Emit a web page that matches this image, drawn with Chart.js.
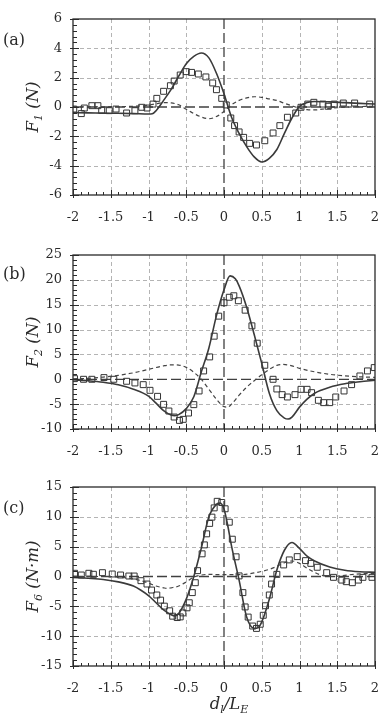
<!DOCTYPE html>
<html>
<head>
<meta charset="utf-8">
<script src="https://cdn.jsdelivr.net/npm/chart.js@4.4.1/dist/chart.umd.min.js"></script>
<style>
    body { margin: 0; background: #fff; }
    #wrap { position: relative; width: 383px; height: 715px; overflow: hidden; }
    canvas { position: absolute; left: 0; }
</style>
</head>
<body>
<div id="wrap">
    <canvas id="cA" width="383" height="230" style="top:0"></canvas>
    <canvas id="cB" width="383" height="230" style="top:230px"></canvas>
    <canvas id="cC" width="383" height="255" style="top:460px"></canvas>
</div>
<script>
// ---- panel (a) F1 ----
const aLineX = [-2, -1.8, -1.6, -1.4, -1.2, -1.0, -0.95, -0.9, -0.8, -0.7, -0.6, -0.5, -0.4, -0.3, -0.2, -0.1, 0, 0.1, 0.2, 0.3, 0.4, 0.5, 0.6, 0.7, 0.8, 0.9, 1.0, 1.1, 1.2, 1.4, 1.6, 1.8, 2];
const aLine  = [-0.39, -0.4, -0.42, -0.43, -0.45, -0.48, -0.46, -0.25, 0.45, 1.2, 2.1, 2.95, 3.45, 3.68, 3.35, 2.3, 0.9, -0.7, -1.8, -2.7, -3.4, -3.75, -3.5, -2.9, -1.8, -0.75, 0.04, 0.3, 0.38, 0.35, 0.3, 0.25, 0.2];
const aDashX = [-2, -1.5, -1.2, -1.0, -0.9, -0.8, -0.7, -0.6, -0.5, -0.4, -0.3, -0.2, -0.1, 0, 0.1, 0.2, 0.3, 0.4, 0.5, 0.6, 0.7, 0.8, 0.9, 1.0, 1.1, 1.2, 1.3, 1.5, 1.75, 2];
const aDash  = [0, 0.02, 0.05, 0.12, 0.22, 0.3, 0.28, 0.15, -0.15, -0.45, -0.68, -0.8, -0.65, -0.3, 0.15, 0.45, 0.62, 0.7, 0.66, 0.55, 0.45, 0.25, 0.08, -0.08, -0.18, -0.2, -0.15, -0.05, 0.02, 0.05];
const aExpX = [-1.99, -1.89, -1.85, -1.75, -1.67, -1.62, -1.52, -1.43, -1.29, -1.18, -1.09, -1.02, -0.94, -0.89, -0.80, -0.71, -0.66, -0.58, -0.50, -0.43, -0.34, -0.24, -0.15, -0.10, -0.03, 0.03, 0.09, 0.14, 0.20, 0.26, 0.34, 0.43, 0.54, 0.65, 0.74, 0.84, 0.95, 1.02, 1.11, 1.19, 1.31, 1.38, 1.46, 1.58, 1.73, 1.93];
const aExp  = [-0.14, -0.45, -0.07, 0.09, 0.09, -0.23, -0.25, -0.14, -0.41, -0.25, -0.02, -0.07, 0.2, 0.59, 1.07, 1.45, 1.77, 2.18, 2.41, 2.36, 2.25, 2.05, 1.64, 1.18, 0.59, 0.14, -0.75, -1.27, -1.70, -2.07, -2.48, -2.59, -2.30, -1.77, -1.27, -0.70, -0.41, -0.02, 0.2, 0.32, 0.2, 0.05, 0.2, 0.27, 0.27, 0.2];

// ---- panel (b) F2 ----
const bLineX = [-2, -1.8, -1.6, -1.4, -1.2, -1.0, -0.9, -0.8, -0.7, -0.65, -0.6, -0.5, -0.4, -0.3, -0.2, -0.1, 0, 0.08, 0.15, 0.2, 0.3, 0.4, 0.5, 0.6, 0.7, 0.8, 0.85, 0.9, 1.0, 1.1, 1.2, 1.4, 1.6, 1.8, 2];
const bLine  = [-0.1, -0.3, -0.6, -1.1, -2.0, -3.4, -4.8, -6.3, -7.2, -7.3, -7.1, -5.9, -3.5, 1.5, 6.3, 12.8, 18.0, 20.8, 20.2, 18.8, 14.5, 9.0, 3.2, -2.8, -6.3, -7.8, -8.0, -7.6, -5.6, -4.0, -2.8, -1.6, -0.9, -0.5, -0.2];
const bDashX = [-2, -1.8, -1.6, -1.4, -1.2, -1.0, -0.8, -0.7, -0.6, -0.5, -0.4, -0.3, -0.2, -0.1, 0, 0.05, 0.1, 0.2, 0.3, 0.4, 0.5, 0.6, 0.7, 0.78, 0.9, 1.0, 1.2, 1.4, 1.6, 1.8, 2];
const bDash  = [0.1, 0.2, 0.45, 0.8, 1.3, 2.0, 2.7, 2.9, 2.85, 2.4, 1.4, 0.0, -2.0, -4.0, -5.5, -5.6, -5.0, -3.2, -1.6, -0.3, 0.9, 2.0, 2.8, 3.0, 2.7, 2.2, 1.5, 1.0, 0.7, 0.5, 0.4];
const bExpX = [-1.98, -1.86, -1.75, -1.59, -1.46, -1.29, -1.18, -1.07, -0.98, -0.88, -0.80, -0.73, -0.66, -0.59, -0.54, -0.47, -0.40, -0.33, -0.27, -0.19, -0.13, -0.07, 0.00, 0.07, 0.13, 0.19, 0.28, 0.37, 0.44, 0.54, 0.65, 0.70, 0.77, 0.84, 0.94, 1.02, 1.10, 1.16, 1.25, 1.32, 1.40, 1.48, 1.59, 1.69, 1.80, 1.90, 1.99];
const bExp  = [0.13, 0, 0, 0.34, 0, -0.4, -0.74, -1.08, -2.22, -3.43, -5.04, -6.38, -7.59, -8.27, -8.06, -6.79, -5.1, -2.35, 1.68, 4.5, 8.67, 12.7, 15.4, 16.5, 16.8, 15.8, 13.9, 10.75, 7.26, 2.82, 0, -1.95, -3.09, -3.56, -3.09, -2.02, -2.02, -2.69, -4.23, -4.7, -4.7, -3.56, -2.35, -1.08, 0.67, 1.68, 2.35];

// ---- panel (c) F6 ----
const cLineX = [-2, -1.8, -1.6, -1.4, -1.2, -1.1, -1.0, -0.9, -0.8, -0.7, -0.65, -0.6, -0.5, -0.4, -0.3, -0.2, -0.1, -0.05, 0, 0.05, 0.1, 0.2, 0.3, 0.4, 0.45, 0.5, 0.6, 0.7, 0.8, 0.9, 1.0, 1.1, 1.2, 1.4, 1.6, 1.8, 2];
const cLine  = [-0.15, -0.3, -0.5, -0.9, -1.6, -2.3, -3.2, -4.4, -5.6, -6.4, -6.6, -6.2, -3.8, 0, 4.8, 10.0, 12.1, 12.3, 11.3, 8.5, 5.1, -0.6, -6.8, -8.7, -8.6, -7.6, -3.8, 1.1, 4.4, 5.7, 4.7, 3.4, 2.6, 1.6, 1.05, 0.8, 0.7];
const cDashX = [-2, -1.6, -1.4, -1.2, -1.0, -0.9, -0.8, -0.75, -0.7, -0.6, -0.5, -0.4, -0.3, -0.2, 0, 0.2, 0.4, 0.6, 0.7, 0.8, 0.9, 1.0, 1.1, 1.2, 1.3, 1.45, 1.6, 1.8, 2];
const cDash  = [0, 0, -0.1, -0.4, -1.1, -1.6, -1.9, -2.0, -1.9, -1.6, -0.9, -0.1, 0.25, 0.35, 0.3, 0.3, 0.6, 1.2, 1.7, 2.3, 2.6, 2.2, 1.4, 0.7, 0.2, 0, 0.2, 0.45, 0.5];
const cExpX = [-1.98, -1.89, -1.79, -1.73, -1.61, -1.48, -1.37, -1.26, -1.19, -1.10, -1.02, -0.96, -0.89, -0.84, -0.79, -0.72, -0.68, -0.62, -0.58, -0.545, -0.49, -0.46, -0.42, -0.38, -0.35, -0.29, -0.26, -0.23, -0.19, -0.16, -0.13, -0.09, -0.03, 0.015, 0.07, 0.11, 0.16, 0.20, 0.25, 0.28, 0.32, 0.38, 0.43, 0.48, 0.52, 0.55, 0.60, 0.63, 0.70, 0.79, 0.865, 0.97, 1.08, 1.15, 1.235, 1.36, 1.45, 1.56, 1.62, 1.70, 1.78, 1.84, 1.96];
const cExp  = [0.54, 0.25, 0.54, 0.37, 0.64, 0.42, 0.25, 0.08, 0.08, -0.7, -1.26, -2.27, -3.1, -3.96, -4.97, -5.75, -6.65, -6.88, -6.77, -6.1, -5.25, -4.4, -2.7, -1.04, 0.98, 3.8, 5.3, 7.15, 8.9, 9.95, 11.5, 12.6, 12.4, 11.35, 9.1, 6.25, 3.3, 0.1, -2.7, -5.1, -6.8, -8.3, -8.7, -8.0, -6.5, -4.9, -3.1, -1.26, 0.36, 1.94, 2.78, 3.33, 2.66, 2.2, 1.55, 0.64, -0.14, -0.6, -0.87, -1.04, -0.6, -0.14, -0.14];

const FONT = '"DejaVu Serif", serif';
const INK = '#2a2a2a';

function pts(xs, ys) {
    return xs.map((x, i) => ({ x: x, y: ys[i] }));
}

// draws a string made of [text, isSub] parts, centred on (x, y)
function drawParts(ctx, parts, x, y, size, rotate) {
    ctx.save();
    ctx.translate(x, y);
    if (rotate) ctx.rotate(-Math.PI / 2);
    const big = 'italic ' + size + 'px ' + FONT;
    const small = 'italic ' + Math.round(size * 0.68) + 'px ' + FONT;
    let total = 0;
    parts.forEach(p => { ctx.font = p[1] ? small : big; total += ctx.measureText(p[0]).width; });
    let cx = -total / 2;
    ctx.fillStyle = INK;
    ctx.textBaseline = 'middle';
    ctx.textAlign = 'left';
    parts.forEach(p => {
        ctx.font = p[1] ? small : big;
        ctx.fillText(p[0], cx, p[1] ? size * 0.3 : 0);
        cx += ctx.measureText(p[0]).width;
    });
    ctx.restore();
}

const decor = {
    id: 'decor',
    beforeDatasetsDraw(chart, args, opts) {
        const ctx = chart.ctx, a = chart.chartArea;
        const xs = chart.scales.x, ys = chart.scales.y;
        ctx.save();
        ctx.strokeStyle = '#b4b4b4';
        ctx.lineWidth = 1;
        ctx.setLineDash([4, 3]);
        xs.ticks.forEach(t => {
            if (t.value === 0 || t.value === xs.min || t.value === xs.max) return;
            const p = Math.round(xs.getPixelForValue(t.value)) + 0.5;
            ctx.beginPath(); ctx.moveTo(p, a.top); ctx.lineTo(p, a.bottom); ctx.stroke();
        });
        ys.ticks.forEach(t => {
            if (t.value === 0 || t.value === ys.min || t.value === ys.max) return;
            const p = Math.round(ys.getPixelForValue(t.value)) + 0.5;
            ctx.beginPath(); ctx.moveTo(a.left, p); ctx.lineTo(a.right, p); ctx.stroke();
        });
        // zero lines
        ctx.strokeStyle = '#404040';
        ctx.lineWidth = 1.3;
        ctx.setLineDash([10, 4]);
        const x0 = xs.getPixelForValue(0), y0 = ys.getPixelForValue(0);
        ctx.beginPath(); ctx.moveTo(a.left, y0); ctx.lineTo(a.right, y0); ctx.stroke();
        ctx.beginPath(); ctx.moveTo(x0, a.top); ctx.lineTo(x0, a.bottom); ctx.stroke();
        ctx.restore();
    },
    afterDatasetsDraw(chart, args, opts) {
        const ctx = chart.ctx, a = chart.chartArea;
        const xs = chart.scales.x, ys = chart.scales.y;
        ctx.save();
        ctx.strokeStyle = INK;
        ctx.lineWidth = 1.3;
        ctx.strokeRect(a.left, a.top, a.right - a.left, a.bottom - a.top);
        ctx.lineWidth = 1;
        // x ticks, minor every 0.1
        for (let i = 0; i <= 40; i++) {
            const v = xs.min + i * 0.1;
            const p = Math.round(xs.getPixelForValue(v)) + 0.5;
            const major = i % 5 === 0;
            ctx.beginPath();
            ctx.moveTo(p, a.bottom + (major ? 3 : 0));
            ctx.lineTo(p, a.bottom - (major ? 5 : 3));
            ctx.stroke();
        }
        // y ticks
        const n = Math.round((ys.max - ys.min) / opts.minorY);
        for (let i = 0; i <= n; i++) {
            const v = ys.min + i * opts.minorY;
            const p = Math.round(ys.getPixelForValue(v)) + 0.5;
            const major = i % 5 === 0;
            ctx.beginPath();
            ctx.moveTo(a.left - (major ? 3 : 0), p);
            ctx.lineTo(a.left + (major ? 6 : 4), p);
            ctx.stroke();
        }
        // panel label
        ctx.fillStyle = INK;
        ctx.font = '16px ' + FONT;
        ctx.textBaseline = 'middle';
        ctx.textAlign = 'left';
        ctx.fillText(opts.label, 3, opts.labelY);
        ctx.restore();
        drawParts(ctx, opts.title, 34, (a.top + a.bottom) / 2, 16.5, true);
        if (opts.xTitle) drawParts(ctx, opts.xTitle, 229, a.bottom + 39, 16.5, false);
    }
};

function makePanel(id, cfg) {
    new Chart(document.getElementById(id), {
        type: 'scatter',
        data: {
            datasets: [
                { data: pts(cfg.lineX, cfg.line), showLine: true, pointRadius: 0, borderColor: '#3a3a3a', borderWidth: 1.6, cubicInterpolationMode: 'monotone' },
                { data: pts(cfg.dashX, cfg.dash), showLine: true, pointRadius: 0, borderColor: '#444', borderWidth: 1.2, borderDash: [4, 3], cubicInterpolationMode: 'monotone' },
                { data: pts(cfg.expX, cfg.exp), showLine: false, pointStyle: 'rect', pointRadius: 4.2, borderWidth: 1, borderColor: '#333', backgroundColor: 'rgba(255,255,255,0)' }
            ]
        },
        options: {
            responsive: false,
            devicePixelRatio: 1,
            animation: false,
            layout: { padding: { top: cfg.top, right: 8, left: 0, bottom: 0 } },
            plugins: {
                legend: { display: false },
                tooltip: { enabled: false },
                decor: { minorY: cfg.minorY, label: cfg.label, labelY: cfg.labelY, title: cfg.title, xTitle: cfg.xTitle }
            },
            scales: {
                x: {
                    type: 'linear', min: -2, max: 2,
                    grid: { display: false, drawTicks: false },
                    border: { display: false },
                    ticks: { stepSize: 0.5, padding: 15, color: INK, font: { family: FONT, size: 13 }, callback: v => String(Number(v.toFixed(2))) },
                    afterFit: s => { s.height = cfg.xh; s.paddingLeft = 0; s.paddingRight = 4; }
                },
                y: {
                    type: 'linear', min: cfg.ymin, max: cfg.ymax,
                    grid: { display: false, drawTicks: false },
                    border: { display: false },
                    ticks: { stepSize: cfg.ystep, padding: 11, color: INK, font: { family: FONT, size: 13 }, callback: v => String(v) },
                    afterFit: s => { s.width = 73; s.paddingTop = 0; s.paddingBottom = 0; }
                }
            }
        },
        plugins: [decor]
    });
}

makePanel('cA', {
    lineX: aLineX, line: aLine, dashX: aDashX, dash: aDash, expX: aExpX, exp: aExp,
    ymin: -6, ymax: 6, ystep: 2, minorY: 0.4, top: 19, xh: 35,
    label: '(a)', labelY: 41, title: [['F', 0], ['1', 1], [' (N)', 0]]
});
makePanel('cB', {
    lineX: bLineX, line: bLine, dashX: bDashX, dash: bDash, expX: bExpX, exp: bExp,
    ymin: -10, ymax: 25, ystep: 5, minorY: 1, top: 25, xh: 31,
    label: '(b)', labelY: 45, title: [['F', 0], ['2', 1], [' (N)', 0]]
});
makePanel('cC', {
    lineX: cLineX, line: cLine, dashX: cDashX, dash: cDash, expX: cExpX, exp: cExp,
    ymin: -15, ymax: 15, ystep: 5, minorY: 1, top: 27, xh: 49,
    label: '(c)', labelY: 49, title: [['F', 0], ['6', 1], [' (N\u00b7m)', 0]],
    xTitle: [['d', 0], ['l', 1], ['/L', 0], ['E', 1]]
});
</script>
</body>
</html>
